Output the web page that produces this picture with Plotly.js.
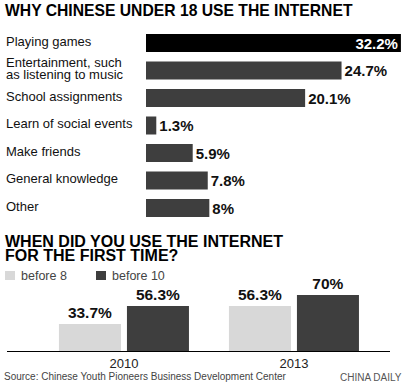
<!DOCTYPE html>
<html>
<head>
<meta charset="utf-8">
<script src="https://cdn.plot.ly/plotly-3.0.1.min.js"></script>
<style>
html,body{margin:0;padding:0;background:#fff;}
#chart{width:412px;height:387px;}
</style>
</head>
<body>
<div id="chart"></div>
<script>
// ---- Data: top chart ----
var reasons = ["Playing games", "Entertainment, such<br>as listening to music", "School assignments",
  "Learn of social events", "Make friends", "General knowledge", "Other"];
var reasonShares = [32.2, 24.7, 20.1, 1.3, 5.9, 7.8, 8];

// ---- Data: bottom chart ----
var years = ["2010", "2013"];
var before8 = [33.7, 56.3];
var before10 = [56.3, 70];
var seriesNames = ["before 8", "before 10"];

// ---- Text ----
var title1 = "WHY CHINESE UNDER 18 USE THE INTERNET";
var title2Lines = ["WHEN DID YOU USE THE INTERNET", "FOR THE FIRST TIME?"];
var sourceText = "Source: Chinese Youth Pioneers Business Development Center";
var creditText = "CHINA DAILY";

var W = 412, H = 387;
function px(x){ return x / W; }
function py(y){ return 1 - y / H; }

var FONT = "Liberation Sans, Arial, sans-serif";
var DARK = "#3e3e3e", LIGHT = "#d8d8d8";

var maxShare = Math.max.apply(null, reasonShares);

var topTrace = {
  type: "bar", orientation: "h",
  x: reasonShares, y: reasons,
  xaxis: "x", yaxis: "y",
  width: 0.655,
  marker: { color: reasonShares.map(function(v){ return v === maxShare ? "#000" : DARK; }) },
  text: reasonShares.map(function(v){ return v + "%"; }),
  textposition: reasonShares.map(function(v){ return v === maxShare ? "inside" : "outside"; }),
  insidetextanchor: "end",
  constraintext: "none",
  cliponaxis: false,
  textfont: { family: FONT, size: 15, weight: "bold",
    color: reasonShares.map(function(v){ return v === maxShare ? "#fff" : "#111"; }) },
  hoverinfo: "none", showlegend: false
};

var b8 = {
  type: "bar", x: years, y: before8, name: seriesNames[0],
  xaxis: "x2", yaxis: "y2",
  marker: { color: LIGHT },
  text: before8.map(function(v){ return v + "%"; }),
  textposition: "outside", constraintext: "none", cliponaxis: false,
  textfont: { family: FONT, size: 15.5, weight: "bold", color: "#111" },
  hoverinfo: "none", showlegend: false
};
var b10 = {
  type: "bar", x: years, y: before10, name: seriesNames[1],
  xaxis: "x2", yaxis: "y2",
  marker: { color: DARK },
  text: before10.map(function(v){ return v + "%"; }),
  textposition: "outside", constraintext: "none", cliponaxis: false,
  textfont: { family: FONT, size: 15.5, weight: "bold", color: "#111" },
  hoverinfo: "none", showlegend: false
};

var annotations = [];
annotations.push({ xref: "paper", yref: "paper", x: px(3), y: py(10), xanchor: "left", yanchor: "middle",
  text: title1, showarrow: false, font: { family: FONT, size: 15.7, weight: "bold", color: "#000" } });
title2Lines.forEach(function(t, i){
  annotations.push({ xref: "paper", yref: "paper", x: px(3), y: py(241.5 + i * 14), xanchor: "left", yanchor: "middle",
    text: t, showarrow: false, font: { family: FONT, size: 16, weight: "bold", color: "#000" } });
});

// category labels (left-aligned)
reasons.forEach(function(r){
  var lines = r.split("<br>");
  lines.forEach(function(l, j){
    var off = (j - (lines.length - 1) / 2) * 11.7;
    annotations.push({ xref: "paper", yref: "y", x: px(4), y: r, xanchor: "left", yanchor: "middle",
      yshift: 2 - off, text: l, showarrow: false, font: { family: FONT, size: 13, color: "#111" } });
  });
});

// legend (manual)
var legendColors = [LIGHT, DARK];
var legendX = [5, 96];
var shapes = [];
seriesNames.forEach(function(n, i){
  shapes.push({ type: "rect", xref: "paper", yref: "paper",
    x0: px(legendX[i]), x1: px(legendX[i] + 10), y0: py(280), y1: py(271),
    fillcolor: legendColors[i], line: { width: 0 } });
  annotations.push({ xref: "paper", yref: "paper", x: px(legendX[i] + 14), y: py(275.5), xanchor: "left", yanchor: "middle",
    text: n, showarrow: false, font: { family: FONT, size: 12.5, color: "#444" } });
});

annotations.push({ xref: "paper", yref: "paper", x: px(2), y: py(376.5), xanchor: "left", yanchor: "middle",
  text: sourceText, showarrow: false, font: { family: FONT, size: 10, color: "#444" } });
annotations.push({ xref: "paper", yref: "paper", x: px(404), y: py(377), xanchor: "right", yanchor: "middle",
  text: creditText, showarrow: false, font: { family: FONT, size: 10, color: "#555" } });

var layout = {
  width: W, height: H,
  margin: { l: 0, r: 0, t: 0, b: 0, pad: 0 },
  paper_bgcolor: "#fff", plot_bgcolor: "rgba(0,0,0,0)",
  font: { family: FONT, color: "#111" },
  barmode: "group", bargap: 0.2, bargroupgap: 0.088,
  showlegend: false,
  xaxis: { domain: [px(146), 1], range: [0, 33.6], visible: false, fixedrange: true },
  yaxis: { domain: [py(221.75), py(29.25)], type: "category", range: [6.5, -0.5],
    visible: false, fixedrange: true },
  xaxis2: { domain: [px(7), px(390)], anchor: "y2", type: "category", range: [-0.688, 1.565],
    showline: true, linecolor: "#000", linewidth: 1, ticks: "", showgrid: false, zeroline: false,
    tickfont: { family: FONT, size: 13, color: "#222" }, fixedrange: true },
  yaxis2: { domain: [py(351), py(290)], anchor: "x2", range: [0, 76.25], visible: false, fixedrange: true },
  annotations: annotations,
  shapes: shapes
};

Plotly.newPlot("chart", [topTrace, b8, b10], layout, { displayModeBar: false, staticPlot: true });
</script>
</body>
</html>
